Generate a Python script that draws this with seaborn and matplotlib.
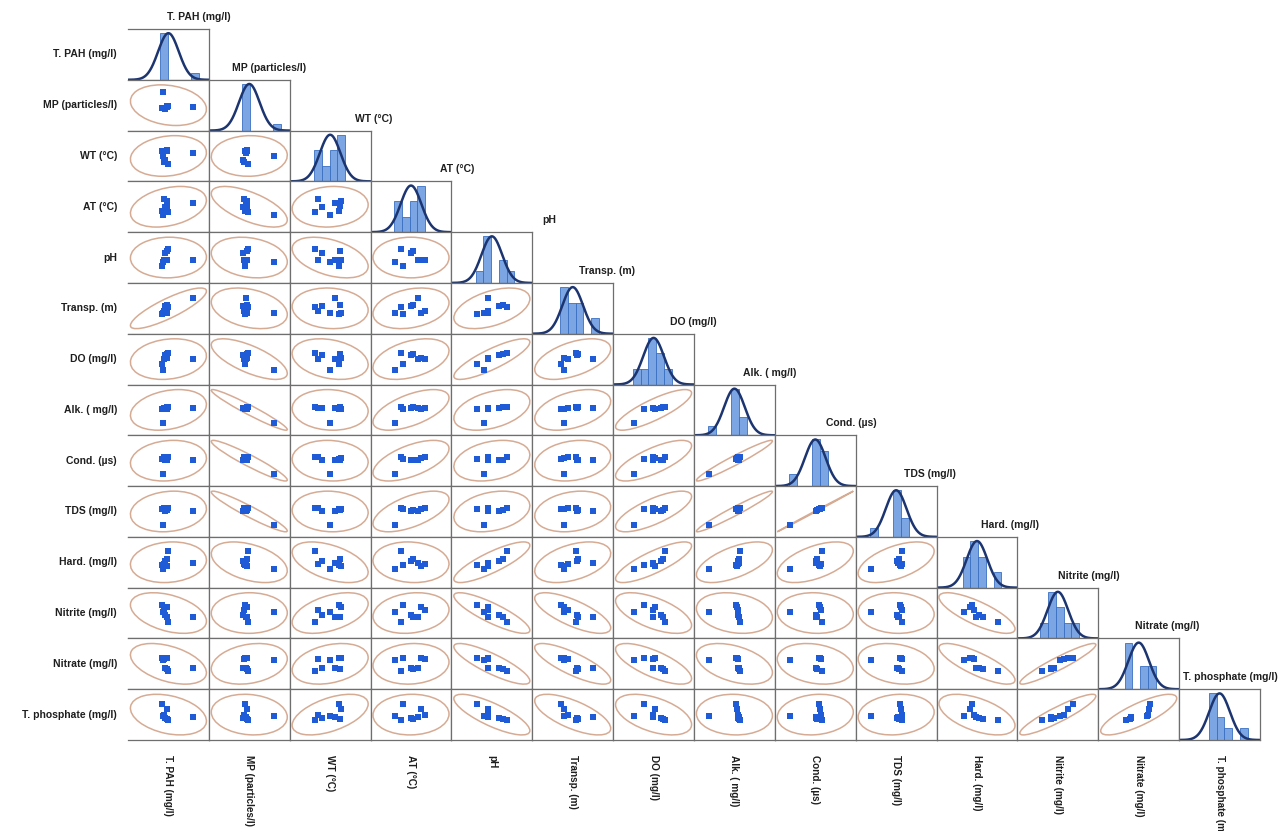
import numpy as np
import pandas as pd
import matplotlib
matplotlib.use("Agg")
import matplotlib.pyplot as plt
from matplotlib.patches import Ellipse
import seaborn as sns

# ---- water-quality measurements, eight sampling stations ----
names = ["T. PAH (mg/l)", "MP (particles/l)", "WT (°C)", "AT (°C)", "pH",
         "Transp. (m)", "DO (mg/l)", "Alk. ( mg/l)", "Cond. (µs)", "TDS (mg/l)",
         "Hard. (mg/l)", "Nitrite (mg/l)", "Nitrate (mg/l)", "T. phosphate (mg/l)"]

t_pah     = [0.41, 0.44, 0.39, 0.45, 0.42, 0.44, 0.40, 0.70]
mp        = [3.1, 3.5, 3.2, 3.6, 3.0, 3.4, 6.5, 3.3]
wt        = [26.3, 28.5, 28.4, 26.0, 26.7, 28.6, 27.5, 28.0]
at        = [32.4, 31.2, 30.2, 30.0, 31.0, 32.0, 29.4, 31.7]
ph        = [7.5, 7.9, 7.2, 8.0, 7.8, 7.5, 7.4, 7.5]
transp    = [0.47, 0.54, 0.42, 0.52, 0.53, 0.44, 0.44, 0.64]
do        = [6.8, 7.3, 6.3, 7.4, 7.2, 6.9, 5.8, 6.8]
alk       = [188, 191, 183, 193, 189, 185, 123, 190]
cond      = [433, 412, 421, 436, 403, 427, 262, 406]
tds       = [216, 207, 211, 217, 202, 213, 131, 204]
hard      = [156, 168, 153, 190, 163, 151, 142, 159]
nitrite   = [0.045, 0.034, 0.053, 0.026, 0.037, 0.049, 0.042, 0.034]
nitrate   = [1.37, 0.83, 1.43, 0.71, 0.86, 1.40, 1.34, 0.86]
t_phos    = [0.300, 0.265, 0.395, 0.255, 0.270, 0.350, 0.290, 0.275]

df = pd.DataFrame(dict(zip(names, [t_pah, mp, wt, at, ph, transp, do, alk, cond,
                                   tds, hard, nitrite, nitrate, t_phos])))

sns.set_theme(style="white")
plt.rcParams["font.family"] = ["Liberation Sans", "DejaVu Sans"]

POINT = "#1f5bd6"
ELLIPSE = "#d6ab94"
BAR = "#6d9de0"
BAR_EDGE = "#3a6fc2"
CURVE = "#1c3570"
FRAME = "#6e6e6e"
TEXT = "#1e1e1e"

k = len(names)
n = len(df)
# 95% bivariate prediction ellipse (Hotelling T^2, p = 2, F(2, 6; 0.95) for n = 8)
F95 = 5.143
radius = np.sqrt(2 * (n - 1) * (n + 1) / (n * (n - 2)) * F95)

means = df.mean()
sds = df.std(ddof=1)
xlims = {c: (means[c] - radius / 0.94 * sds[c], means[c] + radius / 0.94 * sds[c]) for c in names}
ylims = {c: (means[c] - radius / 0.80 * sds[c], means[c] + radius / 0.80 * sds[c]) for c in names}

fig = plt.figure(figsize=(12.83, 8.31), dpi=100)
gs = fig.add_gridspec(k, k, left=128 / 1283, right=1260 / 1283,
                      top=1 - 29 / 831, bottom=1 - 740 / 831, wspace=0, hspace=0)

# horizontal placement of the diagonal titles (axes fraction)
title_x = [0.87, 0.75, 1.04, 1.07, 1.21, 0.92, 0.99, 0.94, 0.94, 0.92, 0.91, 0.88, 0.85, 0.63]

for i, yv in enumerate(names):
    for j, xv in enumerate(names[: i + 1]):
        ax = fig.add_subplot(gs[i, j])
        if i == j:
            vals = df[xv].to_numpy()
            bw = 0.75 * sds[xv]
            lo = vals.min() - 0.15 * bw
            nb = int(np.ceil((vals.max() - lo) / bw)) + 1
            sns.histplot(x=vals, ax=ax, binwidth=bw, binrange=(lo, lo + nb * bw),
                         stat="count", color=BAR, edgecolor=BAR_EDGE,
                         linewidth=0.6, alpha=0.9)
            top = max(p.get_height() for p in ax.patches)
            xs = np.linspace(*xlims[xv], 200)
            dens = np.exp(-0.5 * ((xs - means[xv]) / sds[xv]) ** 2) * top
            sns.lineplot(x=xs, y=dens, ax=ax, color=CURVE, linewidth=1.8)
            ax.set_xlim(*xlims[xv])
            ax.set_ylim(0, top * 1.09)
            ax.text(title_x[j], 1 + 12 / 50.8, xv, transform=ax.transAxes,
                    ha="center", va="center", fontsize=7.5, fontweight="bold",
                    color=TEXT)
        else:
            x = df[xv].to_numpy()
            y = df[yv].to_numpy()
            cov = np.cov(x, y)
            ev, evec = np.linalg.eigh(cov)
            order = ev.argsort()[::-1]
            ev, evec = ev[order], evec[:, order]
            angle = np.degrees(np.arctan2(evec[1, 0], evec[0, 0]))
            ax.add_patch(Ellipse((x.mean(), y.mean()),
                                 width=2 * radius * np.sqrt(ev[0]),
                                 height=2 * radius * np.sqrt(ev[1]),
                                 angle=angle, fill=False, edgecolor=ELLIPSE,
                                 linewidth=1.1))
            sns.scatterplot(x=x, y=y, ax=ax, marker="s", s=20, color=POINT,
                            linewidth=0, zorder=3)
            ax.set_xlim(*xlims[xv])
            ax.set_ylim(*ylims[yv])

        ax.set_xticks([])
        ax.set_yticks([])
        ax.set_xlabel("")
        ax.set_ylabel("")
        for side, sp in ax.spines.items():
            sp.set_visible(True)
            sp.set_color(FRAME)
            sp.set_linewidth(0.9)
        if j == 0:
            ax.spines["left"].set_visible(False)
            ax.text(-0.136, 0.5, yv, transform=ax.transAxes, ha="right",
                    va="center", fontsize=7.5, fontweight="bold", color=TEXT)
        if i == k - 1:
            ax.text(0.5, -0.3, xv, transform=ax.transAxes, ha="center",
                    va="top", rotation=270, fontsize=7.2, fontweight="bold",
                    color=TEXT)

fig.savefig("out.png", dpi=100, facecolor="white")
